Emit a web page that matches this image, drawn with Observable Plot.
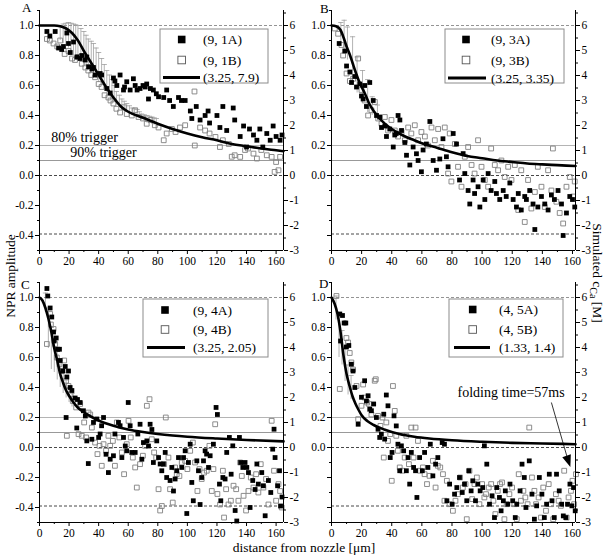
<!DOCTYPE html>
<html><head><meta charset="utf-8">
<script src="https://cdn.jsdelivr.net/npm/d3@7"></script>
<script src="https://cdn.jsdelivr.net/npm/@observablehq/plot@0.6"></script>
<style>
body{margin:0;background:#fff;}
#fig{position:relative;width:606px;height:555px;background:#fff;overflow:hidden;font-family:"Liberation Serif","Times New Roman",serif;}
</style></head><body><div id="fig"></div>
<script>
const FONT = '"Liberation Serif","Times New Roman",serif';

// ---- axis ticks ----
const xTicks = [0,20,40,60,80,100,120,140,160];
const xMinor = [10,30,50,70,90,110,130,150];
const yTicks = [-0.4,-0.2,0,0.2,0.4,0.6,0.8,1.0];
const yMinor = [-0.5,-0.3,-0.1,0.1,0.3,0.5,0.7,0.9,1.1];
const rTicks = [-3,-2,-1,0,1,2,3,4,5,6];          // simulated c_Ca [M]
const rMinor = [-2.5,-1.5,-0.5,0.5,1.5,2.5,3.5,4.5,5.5,6.5];
const levelsDashedLight = [1.0];
const levelsDashedDark = [0, -0.39];
const levelsTrigger80 = [0.2];
const levelsTrigger90 = [0.1];

// ---- legend labels ----
const legendA = ["(9, 1A)","(9, 1B)","(3.25, 7.9)"];
const legendB = ["(9, 3A)","(9, 3B)","(3.25, 3.35)"];
const legendC = ["(9, 4A)","(9, 4B)","(3.25, 2.05)"];
const legendD = ["(4, 5A)","(4, 5B)","(1.33, 1.4)"];

// ---- panel A ----
const filledA = [[5,.96],[7,.93],[10.6,.96],[12.9,.85],[15,.84],[16.2,.86],[18.5,.95],[19.6,.88],[20.8,.82],[23,.89],[25.3,.79],[27.5,.78],[28.6,.80],[30.9,.77],[32,.79],[33.2,.725],[35.4,.71],[36.5,.72],[37.6,.67],[41,.68],[42,.67],[45.5,.58],[47.8,.55],[50,.65],[51,.63],[52.3,.60],[54.5,.67],[56.8,.57],[57.5,.59],[59,.625],[61.3,.57],[63.5,.645],[64.7,.60],[66,.57],[68,.58],[70,.60],[71.5,.59],[72.5,.61],[73.7,.51],[75,.58],[77,.57],[79,.545],[80.5,.525],[84,.52],[86,.57],[88,.50],[90.5,.46],[94,.52],[96,.50],[98.5,.50],[102,.43],[103,.38],[106,.46],[108.6,.37],[112,.40],[114,.43],[115,.35],[120,.40],[122,.32],[124,.46],[126.6,.30],[131,.45],[132,.37],[135.7,.26],[138,.33],[140,.19],[142,.31],[144.7,.27],[147,.235],[149,.31],[151,.19],[153.7,.28],[156,.235],[158,.33],[160,.26],[162.7,.235],[164,.27]];
const openA = [[5,.91],[7,.90],[9.5,.88],[12,.86],[14,.90],[17,.81],[19.6,.83],[22,.78],[24,.77],[26,.79],[28.6,.745],[31,.72],[33,.70],[35,.67],[37.6,.655],[40,.61],[42,.59],[44,.535],[46.6,.52],[48,.50],[50,.48],[52,.445],[54.5,.42],[57,.455],[59,.41],[62.4,.40],[64.7,.435],[67,.39],[70,.38],[72.5,.345],[75,.37],[78,.335],[80.5,.32],[84,.235],[86,.28],[89.5,.31],[92,.29],[95,.32],[98.5,.335],[104.8,.56],[105,.20],[108.6,.32],[112,.30],[115,.28],[119,.257],[122,.19],[124,.235],[128,.21],[130,.125],[132,.135],[135.7,.124],[139,.17],[141,.18],[144.7,.146],[147,.113],[150,.17],[153.7,.135],[157,.124],[159,.024],[160,.09],[161.6,.035],[162.7,.124]];
const curveA = [[0,1],[10,1],[14,.995],[18,.98],[22,.95],[26,.90],[30,.83],[35,.75],[40,.67],[45,.59],[50,.52],[55,.46],[60,.425],[70,.385],[80,.345],[90,.31],[100,.28],[110,.255],[120,.235],[130,.21],[140,.195],[150,.18],[160,.168],[165,.162]];
const errA = [[14,.90,1.0],[16,.88,1.01],[17.8,.86,1.015],[19.6,.85,1.02],[21.3,.82,1.015],[23,.80,1.01],[24.5,.79,1.005],[26,.78,1.0],[28,.76,.98],[30,.74,.96],[31.5,.72,.935],[33,.70,.91],[35,.685,.895],[36.5,.67,.88],[38.3,.645,.85],[40,.62,.82],[42,.60,.78],[43.8,.575,.74],[45.5,.55,.70],[47.3,.525,.67],[49,.50,.64],[50.5,.485,.60],[52,.47,.56],[54,.455,.535],[55.7,.44,.51],[57.3,.43,.495],[59,.42,.48],[60.8,.41,.465],[62.5,.40,.45],[64.3,.395,.445],[66,.39,.44],[67.5,.38,.425],[69,.37,.41],[70.8,.36,.405],[72.6,.35,.40],[74.3,.345,.395],[76,.34,.39],[77.5,.335,.385],[79,.33,.38]];
const notesA = [{x:8,y:.255,t:"80% trigger"},{x:20.8,y:.155,t:"90% trigger"}];

// ---- panel B ----
const filledB = [[5.1,.88],[8.8,.83],[10,.73],[12.2,.69],[13.3,.62],[15.5,.66],[16.6,.59],[18.8,.61],[19.9,.53],[21,.51],[22,.60],[23.2,.46],[25.4,.62],[27.7,.50],[29.9,.40],[32,.39],[33.2,.32],[35.4,.33],[36.5,.26],[38.7,.31],[41,.19],[42,.27],[43,.28],[44.2,.40],[45.4,.37],[46.5,.30],[48.7,.22],[49.8,.135],[52,.07],[54.2,.19],[56.4,.145],[57.5,.10],[59.7,.025],[60.8,.17],[63,.21],[65.3,.36],[67.5,.10],[69.7,.035],[71.9,.11],[74,.245],[76.3,.125],[77.4,.058],[80.8,.28],[83,.21],[85,-.03],[87.4,.146],[88.5,.013],[90.7,-.10],[91.8,-.19],[94,-.03],[95,-.12],[97.3,-.075],[98.5,-.21],[100.7,-.03],[101.8,-.16],[104,.013],[106,-.10],[108.4,-.04],[109.5,-.12],[111.7,-.16],[114,-.10],[116,-.14],[118.4,-.05],[120.6,-.16],[122.8,-.21],[124,-.12],[126,-.23],[128.3,-.14],[129.4,-.16],[131.6,-.10],[133.8,-.19],[135,-.36],[137,-.21],[139.4,-.14],[141.6,-.19],[143.8,-.23],[146,-.13],[148,-.16],[150.4,-.10],[152.7,-.19],[153.8,-.40],[156,-.25],[158.2,-.14],[160,-.16],[161.5,-.21]];
const openB = [[2.2,.98],[4.4,.945],[6.6,.87],[7.7,.80],[10,.68],[12.2,.63],[14.4,.645],[17.7,.78],[19.9,.57],[22,.50],[24.3,.40],[26.5,.435],[28.8,.49],[31,.38],[33.2,.345],[35.4,.39],[37.6,.30],[39.8,.37],[42,.30],[44.2,.26],[46.5,.29],[48.7,.235],[50.9,.32],[53,.28],[55.3,.335],[57.5,.235],[59.7,.29],[62,.26],[64,.20],[66.4,.32],[68.6,.235],[70.8,.31],[73,.19],[75.2,.32],[77.4,.013],[78.5,.28],[79.6,-.04],[81.9,.21],[84,.058],[86.3,-.075],[88.5,.125],[90.7,.19],[93,.07],[95,.013],[97.3,.235],[99.6,.058],[101.8,-.03],[104,-.075],[106,.18],[108.4,.07],[110.6,.035],[112.8,.10],[115,-.01],[117.3,.058],[119.5,-.03],[121.7,.07],[124,-.23],[126,.035],[128.3,-.31],[130.5,-.03],[132.7,-.22],[135,-.11],[137,.058],[139.4,-.075],[141.6,-.21],[143.8,.035],[146,-.10],[147,.18],[149.3,-.175],[151.5,-.25],[153.8,-.32],[156,-.075],[158.2,-.01],[160.4,-.14],[161.5,-.04]];
const curveB = [[0,1],[3,.995],[6,.97],[8,.92],[10,.86],[12,.81],[14,.75],[16,.69],[18,.635],[20,.59],[22,.55],[25,.48],[28,.43],[32,.38],[36,.34],[40,.31],[45,.28],[50,.255],[55,.235],[60,.215],[70,.185],[80,.155],[90,.13],[100,.115],[110,.10],[120,.09],[130,.08],[140,.074],[150,.069],[162,.063]];
const errB = [[6.2,.88,1.02],[8.4,.84,1.035],[10.6,.77,.99],[14,.60,.925],[17,.55,.79],[20.6,.50,.70],[24,.42,.64],[27,.40,.525],[30.5,.37,.47]];

// ---- panel C ----
const filledC = [[5,1.06],[5.6,1.01],[7.2,.93],[8.3,.87],[9.5,.77],[9.9,.71],[11.3,.73],[12.2,.655],[13.5,.655],[14,.58],[15.8,.51],[17.4,.54],[18.5,.47],[19.6,.51],[20.7,.40],[21.9,.38],[18,.20],[24.1,.33],[25.7,.32],[27.5,.30],[25.2,.13],[29.7,.245],[31,.21],[32,.044],[33,-.107],[35.4,.055],[36.5,.167],[38.8,.19],[40,.067],[41,.09],[42,.145],[43.3,.20],[45,-.045],[46.6,-.167],[47.8,-.078],[50,-.055],[51,.09],[53.4,.167],[54.5,.145],[55.7,-.067],[56.8,.067],[58,.01],[59,-.022],[60,.30],[61.3,.145],[62.4,-.033],[64.7,-.033],[66.5,.09],[68,.155],[69.2,-.078],[70.3,.033],[72.6,.044],[73.7,.01],[74.8,.155],[76,.12],[77,-.10],[79.3,.044],[80.5,-.067],[81.6,-.11],[82.7,-.155],[83.8,-.11],[85,-.033],[86,-.20],[88.3,-.22],[89.5,-.133],[90.6,-.29],[91.7,-.21],[92.8,-.155],[94,-.067],[96.2,-.133],[97.4,-.067],[98.5,-.022],[99.6,-.44],[100.7,-.10],[101.9,.022],[103,-.233],[104,-.355],[106.4,-.089],[107.5,-.155],[108.6,-.38],[109.7,-.20],[110.9,-.089],[112,-.022],[113,-.044],[114.3,-.133],[115.4,-.055],[117.6,.022],[119.4,.267],[120.3,.22],[121.7,-.244],[122.6,-.355],[124,-.20],[125.5,-.21],[126.6,-.033],[128.4,.067],[129.6,-.178],[130.7,.011],[132.3,-.42],[133.4,-.49],[135.2,.067],[136,-.10],[137.5,-.133],[139,-.10],[140.2,-.133],[141.3,-.167],[142.4,-.40],[144.2,-.22],[145.8,-.28],[147,-.11],[148,-.244],[150.3,-.167],[151.4,-.255],[152.6,-.455],[154.8,-.22],[156.4,-.30],[157.7,-.011],[158.6,.122],[159.3,-.067],[161,-.255],[162.3,-.155],[163,-.39],[164,-.33]];
const openC = [[5,.69],[7.2,.89],[7.7,.82],[9.5,.79],[10.6,.69],[11.7,.60],[13.5,.555],[15,.51],[16.7,.58],[18,.445],[19.6,.41],[21,.355],[18.5,.078],[22.5,.31],[24.8,.267],[26.4,.089],[27.5,.29],[28.6,.078],[30.2,.167],[31.5,.067],[33.1,.233],[34.3,.22],[35.4,.133],[37.6,.033],[39.2,-.044],[40.6,.011],[42.1,-.122],[43.3,.022],[45,-.022],[46.6,.078],[47.8,.011],[49.6,.044],[51,-.122],[52.3,.167],[54,.067],[55.7,-.033],[57.2,-.178],[59,.022],[60.2,.178],[61.7,.067],[63.1,-.067],[64.7,-.133],[65.8,-.267],[68,-.111],[69.9,-.055],[71.4,.011],[72.6,.278],[74.4,.322],[75.9,.055],[77.5,-.033],[78.9,-.067],[80.5,-.278],[81.6,-.42],[82.7,-.39],[84.3,-.111],[85.4,.20],[87.2,-.067],[88.3,-.278],[90.1,-.367],[91.7,-.133],[92.8,-.178],[94.6,-.19],[96.2,-.10],[98.5,-.089],[100,-.144],[101.9,-.022],[103.7,.033],[105.2,-.10],[106.8,-.29],[108.2,-.144],[109.7,-.21],[111.3,-.167],[113.1,-.155],[114.9,.011],[116.5,-.29],[117.6,-.144],[118.8,.155],[120.3,-.31],[122.1,-.38],[124,-.155],[124.8,-.467],[126.2,-.278],[127.8,-.38],[129.4,-.355],[131.2,-.255],[133,-.278],[134.5,-.355],[135.7,-.10],[136.8,-.19],[138,-.322],[139.7,-.42],[141.3,-.29],[142.9,-.20],[144.7,-.267],[146.5,-.178],[148,-.30],[149.6,-.111],[151.4,-.267],[153.2,-.21],[154.8,-.38],[157,.178],[158.6,-.155],[160,-.355],[161.6,-.244],[162.7,-.29],[163.8,-.40]];
const curveC = [[0,1],[2,.98],[4,.93],[6,.86],[8,.77],[10,.66],[12,.58],[14,.49],[16,.43],[18,.38],[20,.345],[23,.30],[26,.265],[30,.235],[35,.205],[40,.18],[50,.145],[60,.12],[70,.103],[80,.09],[90,.08],[100,.072],[120,.06],[140,.05],[165,.041]];
const errC = [[4,.90,1.03],[6,.66,.93],[8,.52,.80],[10,.50,.72],[12,.45,.64],[14,.40,.58],[16,.36,.50],[18,.33,.45],[20,.30,.40],[22,.27,.36]];

// ---- panel D ----
const filledD = [[5.5,.89],[7.3,.88],[6,.71],[8.4,.83],[9.5,.83],[9.9,.67],[11.5,.68],[13.2,.555],[14.3,.51],[15.5,.40],[17.7,.155],[19.9,.335],[22,.445],[23.2,.31],[24.3,.345],[25.4,.255],[26.5,.245],[28,.29],[29.8,.20],[30.9,.122],[32,.067],[33.1,.089],[34.7,.222],[35.3,.056],[36.4,.35],[37.5,.278],[39,-.067],[40.2,-.033],[41.5,.211],[43,.144],[44.1,.022],[45.3,-.155],[46.4,.011],[47.9,-.022],[49.7,-.155],[50.8,-.067],[51.9,-.244],[53,-.033],[54.5,-.133],[55.8,-.155],[56.7,-.333],[58.5,-.067],[60.3,-.155],[61.8,-.033],[64,-.133],[65.6,.022],[67.3,-.189],[69.1,-.111],[70.6,-.067],[73.5,.033],[75,.022],[76.6,-.355],[78.4,-.244],[80.1,-.378],[81.7,-.311],[83.2,-.267],[85,-.20],[86.8,-.30],[88.3,-.244],[89.8,-.355],[91.2,-.155],[92.7,-.289],[93.8,-.222],[95.6,-.355],[97.1,-.244],[98.7,-.289],[100.4,-.267],[101.5,.011],[103.1,-.111],[104.9,-.378],[106.6,-.322],[108.2,-.467],[109.7,-.267],[111.5,-.333],[112.6,-.422],[114.1,-.355],[115.4,-.289],[117,-.378],[118.5,-.244],[120.3,-.355],[122,-.467],[123,-.378],[125.2,-.289],[126.5,-.111],[128,-.20],[129.1,-.40],[131.3,-.089],[133.1,-.311],[134.7,-.478],[136.2,-.389],[138,-.20],[139.7,-.311],[141.3,-.467],[142.8,-.378],[144.6,-.178],[146.4,-.355],[147.9,-.467],[149.4,-.178],[151.2,-.289],[152.8,-.378],[153.9,-.456],[155.6,-.467],[156.7,-.378],[158.3,-.244],[159.6,-.389],[160.7,-.267],[161.8,-.422]];
const openD = [[3.3,1.01],[5.5,.39],[9.9,.73],[11,.70],[12.1,.63],[13.2,.567],[14.3,.52],[16.6,.41],[17.7,.189],[19.9,.278],[21,.42],[22,.333],[23.6,.30],[24.9,.29],[26.5,.22],[28.7,.445],[29.4,.455],[30.9,.211],[32.5,.144],[33.8,.20],[34.7,-.067],[36.4,.167],[37.5,.044],[39,.089],[40,-.222],[40.8,.41],[42,.244],[43,.078],[44.1,-.022],[45.3,-.133],[47,-.155],[48.6,-.067],[49.7,.078],[51.4,-.111],[53,.133],[54.5,-.067],[55.8,.133],[57.4,.044],[58.9,-.155],[60.7,-.133],[61.8,-.178],[63.4,-.244],[65.1,-.189],[67.3,-.089],[69.1,-.267],[70.6,-.122],[72.2,-.133],[74,-.178],[75,-.355],[76.6,-.222],[78.4,-.378],[80.6,-.422],[82.3,-.355],[83.9,-.311],[85.4,-.20],[87.2,-.267],[89,-.244],[89.8,-.478],[91.6,-.155],[93.4,-.344],[94.9,-.244],[96.5,-.20],[98.2,-.378],[100,-.244],[101.5,-.333],[102.6,-.311],[104.4,-.267],[106,-.244],[107.5,-.355],[108.8,-.444],[110.4,-.289],[111.9,-.244],[113.2,-.233],[114.8,-.478],[116.3,-.378],[118.1,-.311],[119.9,-.267],[121.4,-.378],[123,-.478],[124.3,-.178],[125.8,-.355],[127.4,-.289],[128.7,-.333],[130.2,-.378],[131.3,.133],[133.1,-.20],[134.7,-.289],[135.8,-.378],[137.5,-.333],[139.1,-.467],[140.6,-.267],[142.4,-.422],[144.2,-.244],[145.7,-.378],[147.2,-.478],[149,-.311],[150.8,-.355],[152.3,-.389],[154.5,-.155],[156.1,-.467],[157.4,-.333],[159,-.289],[160,-.222],[161.1,-.378],[162.3,-.178]];
const curveD = [[0,1],[2,.96],[4,.89],[6,.77],[8,.61],[10,.49],[12,.41],[14,.34],[16,.29],[18,.25],[20,.215],[24,.175],[28,.15],[35,.12],[45,.09],[55,.072],[65,.06],[80,.048],[100,.038],[120,.031],[140,.027],[162,.022]];
const errD = [[3,.85,1.01],[5,.60,.90],[7,.55,.78],[9,.44,.66],[11,.35,.55],[13,.32,.48]];
const notesD = [{x:83.7,y:.365,t:"folding time=57ms"}];
const arrowD = [{x1:146,y1:.30,x2:156.9,y2:-.08}];

// ---- symbols ----
const capSym = {draw(ctx){ctx.moveTo(-2.6,0);ctx.lineTo(2.6,0);}};
const headSym = {draw(ctx){ctx.moveTo(0,-8);ctx.lineTo(-4.5,4);ctx.lineTo(4.5,4);ctx.closePath();}};

function panel(o){
  const X = d=>d[0], Y = d=>d[1];
  const marks = [
    Plot.ruleY(levelsTrigger80,{stroke:"#b4b4b4",strokeWidth:1}),
    Plot.ruleY(levelsTrigger90,{stroke:"#999",strokeWidth:1}),
    Plot.ruleY(levelsDashedLight,{stroke:"#888",strokeWidth:0.9,strokeDasharray:"3,2"}),
    Plot.ruleY(levelsDashedDark,{stroke:"#333",strokeWidth:0.9,strokeDasharray:"3,2"}),
    Plot.ruleX(o.err,{x:X,y1:d=>d[1],y2:d=>d[2],stroke:"#a0a0a0",strokeWidth:0.8}),
    Plot.dot(o.err,{x:X,y:d=>d[2],symbol:capSym,fill:"none",stroke:"#a0a0a0",strokeWidth:0.8}),
    Plot.dot(o.open,{x:X,y:Y,symbol:"square",r:2.7,fill:"none",stroke:"#808080",strokeWidth:0.9}),
    Plot.dot(o.filled,{x:X,y:Y,symbol:"square",r:2.7,fill:"#000",stroke:"none"}),
    Plot.line(o.curve,{x:X,y:Y,curve:"monotone-x",stroke:"#000",strokeWidth:2.6}),
    Plot.ruleX([0,o.xmax],{stroke:"#000",strokeWidth:1}),
    Plot.ruleY([-0.5],{stroke:"#000",strokeWidth:1}),
    Plot.axisX(xTicks,{tickSize:4,tickPadding:2,label:null,tickFormat:d=>String(d)}),
    Plot.axisX(xMinor,{tickSize:2,label:null,tickFormat:()=>""}),
    Plot.axisY(yTicks,{anchor:"left",tickSize:4,tickPadding:2,label:null,
      tickFormat:d=>(o.negLabels||d>=0)?d.toFixed(1):""}),
    Plot.axisY(yMinor,{anchor:"left",tickSize:2,label:null,tickFormat:()=>""}),
    Plot.axisY(rTicks.map(v=>v/6),{anchor:"right",tickSize:4,tickPadding:2,label:null,
      tickFormat:d=>String(Math.round(d*6))}),
    Plot.axisY(rMinor.map(v=>v/6),{anchor:"right",tickSize:2,label:null,tickFormat:()=>""})
  ];
  if (o.notes) marks.push(Plot.text(o.notes,{x:"x",y:"y",text:"t",textAnchor:"start",fontSize:14,fill:"#000"}));
  if (o.arrow){
    marks.push(Plot.link(o.arrow,{x1:"x1",y1:"y1",x2:"x2",y2:"y2",stroke:"#000",strokeWidth:0.8}));
    marks.push(Plot.dot(o.arrow,{x:"x2",y:"y2",symbol:headSym,fill:"#000",stroke:"none",rotate:161.5}));
  }
  const svg = Plot.plot({
    width:o.w, height:272,
    marginLeft:o.ml, marginRight:o.w-o.ml-244, marginTop:10, marginBottom:22,
    x:{domain:[0,o.xmax]}, y:{domain:[-0.5,1.1]},
    style:{fontFamily:FONT,fontSize:"11.5px",color:"#000",background:"transparent",overflow:"visible"},
    marks
  });
  svg.style.position="absolute";
  svg.style.left=o.left+"px";
  svg.style.top=o.top+"px";
  document.getElementById("fig").appendChild(svg);
}

panel({left:0,top:0,w:306,ml:39,xmax:165,negLabels:true,filled:filledA,open:openA,curve:curveA,err:errA,notes:notesA});
panel({left:296,top:0,w:310,ml:35,xmax:162,negLabels:false,filled:filledB,open:openB,curve:curveB,err:errB});
panel({left:0,top:272,w:306,ml:39,xmax:165,negLabels:true,filled:filledC,open:openC,curve:curveC,err:errC});
panel({left:296,top:272,w:310,ml:35,xmax:162,negLabels:false,filled:filledD,open:openD,curve:curveD,err:errD,notes:notesD,arrow:arrowD});

// ---- overlay: legends, panel letters, axis titles ----
const legendLayout = [
  {box:[160,29,108,54], sx:181.7, rows:[39.5,60,77.5], lx:[163,200], tx:203, labels:legendA},
  {box:[445,29,119,54], sx:466, rows:[39.5,60,78], lx:[448,486], tx:491, labels:legendB},
  {box:[143,299,125,58], sx:165, rows:[310,329.5,347.5], lx:[147,185], tx:193, labels:legendC},
  {box:[449,299,114,58], sx:472.7, rows:[309.5,329.5,347.5], lx:[454,490], tx:499, labels:legendD}
];
const ov = d3.create("svg").attr("width",606).attr("height",555)
  .style("position","absolute").style("left","0px").style("top","0px")
  .style("font-family",FONT).style("overflow","visible");
for (const L of legendLayout){
  const g = ov.append("g");
  g.append("rect").attr("x",L.box[0]).attr("y",L.box[1]).attr("width",L.box[2]).attr("height",L.box[3])
    .attr("fill","#fff").attr("stroke","#8c8c8c").attr("stroke-width",1);
  g.append("rect").attr("x",L.sx-3.8).attr("y",L.rows[0]-3.8).attr("width",7.6).attr("height",7.6).attr("fill","#000");
  g.append("rect").attr("x",L.sx-3.8).attr("y",L.rows[1]-3.8).attr("width",7.6).attr("height",7.6)
    .attr("fill","#fff").attr("stroke","#555").attr("stroke-width",0.9);
  g.append("line").attr("x1",L.lx[0]).attr("x2",L.lx[1]).attr("y1",L.rows[2]).attr("y2",L.rows[2])
    .attr("stroke","#000").attr("stroke-width",3);
  L.labels.forEach((t,i)=>{
    g.append("text").attr("x",L.tx).attr("y",L.rows[i]).attr("dy","0.35em")
      .attr("font-size",13.5).attr("fill","#000").text(t);
  });
}
const letters = [["A",22,12],["B",320,13],["C",21,289],["D",319,288]];
for (const [t,x,y] of letters){
  ov.append("text").attr("x",x).attr("y",y).attr("font-size",13).text(t);
}
ov.append("text").attr("transform","translate(10,276) rotate(-90)").attr("text-anchor","middle")
  .attr("dy","0.35em").attr("font-size",13.5).text("NPR amplitude");
const rt = ov.append("text").attr("transform","translate(598,273) rotate(90)").attr("text-anchor","middle")
  .attr("dy","0.35em").attr("font-size",13.5);
rt.append("tspan").text("Simulated c");
rt.append("tspan").attr("dy",3).attr("font-size",10).text("Ca");
rt.append("tspan").attr("dy",-3).text(" [M]");
ov.append("text").attr("x",304).attr("y",547).attr("dy","0.35em").attr("text-anchor","middle")
  .attr("font-size",13.5).text("distance from nozzle [\u03bcm]");
document.getElementById("fig").appendChild(ov.node());
</script>
</body></html>
